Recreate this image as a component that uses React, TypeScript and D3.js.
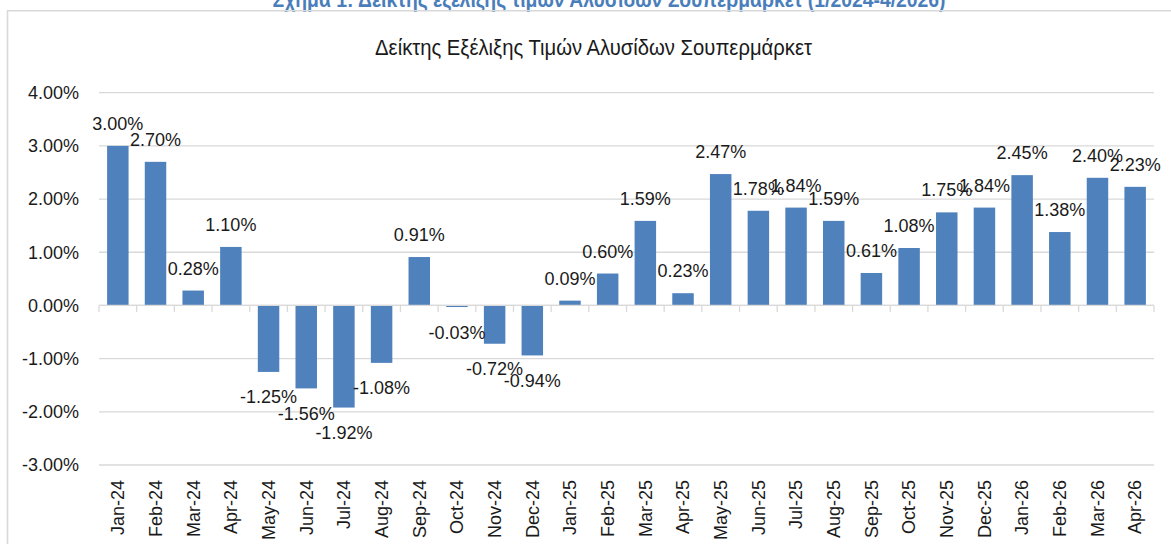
import React from "react";
import * as d3 from "d3";

const categories = [
  "Jan-24", "Feb-24", "Mar-24", "Apr-24", "May-24", "Jun-24", "Jul-24", "Aug-24",
  "Sep-24", "Oct-24", "Nov-24", "Dec-24", "Jan-25", "Feb-25", "Mar-25", "Apr-25",
  "May-25", "Jun-25", "Jul-25", "Aug-25", "Sep-25", "Oct-25", "Nov-25", "Dec-25",
  "Jan-26", "Feb-26", "Mar-26", "Apr-26",
];
const values = [
  3.0, 2.7, 0.28, 1.1, -1.25, -1.56, -1.92, -1.08,
  0.91, -0.03, -0.72, -0.94, 0.09, 0.6, 1.59, 0.23,
  2.47, 1.78, 1.84, 1.59, 0.61, 1.08, 1.75, 1.84,
  2.45, 1.38, 2.4, 2.23,
];
const yTicks = [-3, -2, -1, 0, 1, 2, 3, 4];
const chartTitle = "Δείκτης Εξέλιξης Τιμών Αλυσίδων Σουπερμάρκετ";
const figureTitle = "Σχήμα 1: Δείκτης εξέλιξης τιμών Αλυσίδων Σουπερμάρκετ (1/2024-4/2026)";

const W = 1171;
const H = 544;
const FONT = "'Liberation Sans', Arial, sans-serif";

export default function App() {
  const x = d3
    .scaleBand<string>()
    .domain(categories)
    .range([99, 1154])
    .paddingInner(0.43)
    .paddingOuter(0.215);
  const step = x.step();
  const y = d3.scaleLinear().domain([-3, 4]).range([465, 92.7]);
  const fmt = (v: number) => v.toFixed(2) + "%";
  const y0 = y(0);
  const boundaries = d3.range(categories.length + 1).map((i) => 99 + i * step);

  return (
    <svg
      width={W}
      height={H}
      style={{ position: "absolute", left: 0, top: 0, display: "block", background: "#fff" }}
      fontFamily={FONT}
    >
      <rect x={0} y={0} width={W} height={H} fill="#fff" />
      {/* figure caption, clipped at top */}
      <text
        transform="translate(609,6.5) scale(0.9,1)"
        textAnchor="middle"
        fontSize={21.5}
        fontWeight="bold"
        fill="#4A7EBB"
      >
        {figureTitle}
      </text>
      {/* chart frame */}
      <path d={`M7.5,${H + 2} V10.8 H${W + 5}`} fill="none" stroke="#D9D9D9" strokeWidth={1.6} />

      {/* chart title */}
      <text
        transform="translate(593.5,55) scale(0.9,1)"
        textAnchor="middle"
        fontSize={22.5}
        fill="#1a1a1a"
      >
        {chartTitle}
      </text>

      {/* gridlines */}
      {yTicks.map((t) => (
        <line
          key={"g" + t}
          x1={99}
          x2={1154}
          y1={y(t)}
          y2={y(t)}
          stroke="#D9D9D9"
          strokeWidth={1.3}
        />
      ))}
      {/* y tick labels */}
      {yTicks.map((t) => (
        <text
          key={"yl" + t}
          x={79}
          y={y(t)}
          dy="0.35em"
          textAnchor="end"
          fontSize={18}
          fill="#1a1a1a"
        >
          {t.toFixed(2) + "%"}
        </text>
      ))}

      {/* bars */}
      {categories.map((c, i) => {
        const v = values[i];
        const top = Math.min(y(v), y0);
        const h = Math.abs(y(v) - y0);
        return (
          <rect
            key={"b" + c}
            x={x(c)}
            y={top}
            width={x.bandwidth()}
            height={h}
            fill="#4F81BD"
          />
        );
      })}

      {/* zero axis with tick marks */}
      <line x1={99} x2={1154} y1={y0} y2={y0} stroke="#D9D9D9" strokeWidth={1.3} />
      {boundaries.map((bx, i) => (
        <line
          key={"t" + i}
          x1={bx}
          x2={bx}
          y1={y0}
          y2={y0 + 6.5}
          stroke="#D9D9D9"
          strokeWidth={1.3}
        />
      ))}

      {/* data labels */}
      {categories.map((c, i) => {
        const v = values[i];
        const cx = (x(c) as number) + x.bandwidth() / 2;
        const yy = v >= 0 ? y(v) - 16 : y(v) + 31.5;
        return (
          <text
            key={"dl" + c}
            x={cx}
            y={yy}
            textAnchor="middle"
            fontSize={18}
            fill="#1a1a1a"
          >
            {fmt(v)}
          </text>
        );
      })}

      {/* x labels */}
      {categories.map((c) => {
        const cx = (x(c) as number) + x.bandwidth() / 2;
        return (
          <text
            key={"xl" + c}
            transform={`translate(${cx},480) rotate(-90)`}
            dy="0.35em"
            textAnchor="end"
            fontSize={18}
            fill="#1a1a1a"
          >
            {c}
          </text>
        );
      })}
    </svg>
  );
}
